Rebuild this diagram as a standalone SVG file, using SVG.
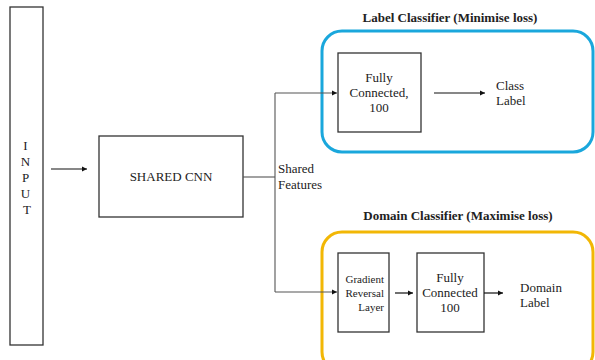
<svg xmlns="http://www.w3.org/2000/svg" width="595" height="360" viewBox="0 0 595 360" font-family="'Liberation Serif', 'Times New Roman', 'DejaVu Serif', serif">
<defs>
<style>
text{font-family:'Liberation Serif','Times New Roman','DejaVu Serif',serif}
.t{font-size:13px;fill:#222}
.s{font-size:11px}
.b{font-weight:bold;font-size:13px}
.box{fill:#fff;stroke:#333;stroke-width:1.3}
.ln{fill:none;stroke:#555;stroke-width:1.1}
.ar{fill:none;stroke:#111;stroke-width:1.2}
</style>
<marker id="ah" markerWidth="6" markerHeight="6" refX="5" refY="3" orient="auto" markerUnits="userSpaceOnUse">
<path d="M0,0.5 L5,3 L0,5.5 Z" fill="#111"/>
</marker>
</defs>
<rect width="595" height="360" fill="#fff"/>
<g id="label-classifier-group">
<rect x="322" y="31" width="271" height="121" rx="20" fill="none" stroke="#1AA7DC" stroke-width="3"/>
<text class="t b" x="450" y="22" text-anchor="middle">Label Classifier (Minimise loss)</text>
</g>
<g id="domain-classifier-group">
<rect x="322" y="232" width="271" height="140" rx="20" fill="none" stroke="#F2B705" stroke-width="3"/>
<text class="t b" x="458" y="220" text-anchor="middle">Domain Classifier (Maximise loss)</text>
</g>
<g id="input">
<rect class="box" x="10" y="7" width="33" height="338"/>
<text class="t" text-anchor="middle">
<tspan x="27" y="150">I</tspan>
<tspan x="27" y="166">N</tspan>
<tspan x="27" y="182">P</tspan>
<tspan x="27" y="198">U</tspan>
<tspan x="27" y="214">T</tspan>
</text>
</g>
<g id="shared-cnn">
<rect class="box" x="99" y="136" width="144" height="81"/>
<text class="t" x="171" y="181" text-anchor="middle">SHARED CNN</text>
</g>
<g id="shared-features">
<text class="t"><tspan x="278" y="173">Shared</tspan><tspan x="278" y="189">Features</tspan></text>
</g>
<g id="fc-label">
<rect class="box" x="338" y="53" width="83" height="79"/>
<text class="t" text-anchor="middle"><tspan x="379" y="82">Fully</tspan><tspan x="379" y="97">Connected,</tspan><tspan x="379" y="112">100</tspan></text>
</g>
<g id="class-label">
<text class="t"><tspan x="496" y="90">Class</tspan><tspan x="496" y="105">Label</tspan></text>
</g>
<g id="grl">
<rect class="box" x="338" y="253" width="51" height="79"/>
<text class="t s" text-anchor="end"><tspan x="384" y="283">Gradient</tspan><tspan x="384" y="297">Reversal</tspan><tspan x="384" y="311">Layer</tspan></text>
</g>
<g id="fc-domain">
<rect class="box" x="417" y="253" width="67" height="79"/>
<text class="t" text-anchor="middle"><tspan x="450" y="282">Fully</tspan><tspan x="450" y="297">Connected</tspan><tspan x="450" y="312">100</tspan></text>
</g>
<g id="domain-label">
<text class="t"><tspan x="520" y="292">Domain</tspan><tspan x="520" y="307">Label</tspan></text>
</g>
<g id="connectors">
<line class="ar" x1="51" y1="169" x2="87" y2="169" marker-end="url(#ah)"/>
<line class="ln" x1="243" y1="177" x2="275" y2="177"/>
<line class="ln" x1="275" y1="93" x2="275" y2="292"/>
<line class="ln" x1="275" y1="93" x2="337" y2="93" marker-end="url(#ah)"/>
<line class="ln" x1="275" y1="292" x2="337" y2="292" marker-end="url(#ah)"/>
<line class="ar" x1="434" y1="93" x2="485" y2="93" marker-end="url(#ah)"/>
<line class="ar" x1="395" y1="293" x2="413" y2="293" marker-end="url(#ah)"/>
<line class="ar" x1="484" y1="293" x2="503" y2="293" marker-end="url(#ah)"/>
</g>
</svg>
